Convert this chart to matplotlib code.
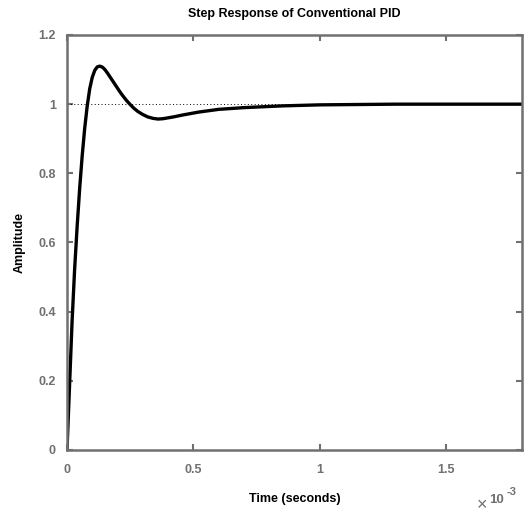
import matplotlib
matplotlib.use("Agg")
import matplotlib.pyplot as plt

# Werte (Zeit in ms)
t_ms = [0, 0.01, 0.02, 0.03, 0.04, 0.05, 0.06, 0.07, 0.08, 0.09, 0.10, 0.11,
        0.12, 0.13, 0.14, 0.15, 0.16, 0.17, 0.18, 0.19, 0.20, 0.21, 0.22, 0.235,
        0.25, 0.265, 0.28, 0.30, 0.32, 0.34, 0.36, 0.38, 0.42, 0.46, 0.52, 0.60,
        0.70, 0.85, 1.0, 1.15, 1.3, 1.5, 1.8]
amp = [0, 0.185, 0.37, 0.52, 0.645, 0.755, 0.85, 0.93, 0.995, 1.045, 1.078, 1.098,
       1.108, 1.11, 1.107, 1.100, 1.090, 1.079, 1.068, 1.057, 1.046, 1.035, 1.025, 1.011,
       0.999, 0.988, 0.979, 0.970, 0.963, 0.959, 0.957, 0.958, 0.963, 0.969, 0.977, 0.985,
       0.990, 0.995, 0.998, 0.999, 1.0, 1.0, 1.0]
x_ticks = [0, 0.5, 1, 1.5]
x_labels = ["0", "0.5", "1", "1.5"]
y_ticks = [0, 0.2, 0.4, 0.6, 0.8, 1, 1.2]
y_labels = ["0", "0.2", "0.4", "0.6", "0.8", "1", "1.2"]

plt.rcParams['font.family'] = ['Liberation Sans', 'DejaVu Sans']
grey = '#707070'

fig = plt.figure(figsize=(5.24, 5.16), dpi=100)
ax = fig.add_axes([67 / 524, 66 / 516, 455 / 524, 415 / 516])

ax.plot([0, 1.8], [1, 1], color='black', linestyle=(0, (1, 2.5)), linewidth=0.7)
ax.plot(t_ms, amp, color='black', linewidth=2.4, solid_joinstyle='round')

ax.set_xlim(0, 1.8)
ax.set_ylim(0, 1.2)
ax.set_xticks(x_ticks)
ax.set_xticklabels(x_labels)
ax.set_yticks(y_ticks)
ax.set_yticklabels(y_labels)

for s in ax.spines.values():
    s.set_color(grey)
    s.set_linewidth(1.8)
ax.tick_params(direction='in', length=4, width=1.5, color=grey, labelcolor=grey,
               labelsize=9, top=True, right=True)
ax.tick_params(axis='x', pad=10)
ax.tick_params(axis='y', pad=8)
for lab in ax.get_xticklabels() + ax.get_yticklabels():
    lab.set_fontweight('bold')

ax.set_title("Step Response of Conventional PID", fontsize=9, fontweight='bold', pad=13)
ax.set_xlabel("Time (seconds)", fontsize=9, fontweight='bold', labelpad=12)
ax.set_ylabel("Amplitude", fontsize=9, fontweight='bold', labelpad=9)

# Exponent unten rechts
fig.text(482 / 524, 1 - 506 / 516, "\u00d7", color=grey, fontsize=13, ha='center', va='center')
fig.text(489 / 524, 1 - 500 / 516, "10", color=grey, fontsize=9.5, fontweight='bold', ha='left', va='center')
fig.text(507 / 524, 1 - 492 / 516, "-3", color=grey, fontsize=8, fontweight='bold', ha='left', va='center')

fig.savefig("out.png", dpi=100)
